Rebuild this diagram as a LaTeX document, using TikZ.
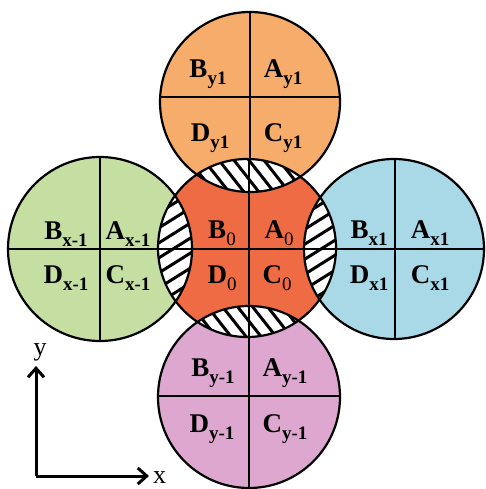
\documentclass[tikz,border=0pt]{standalone}
\usepackage{fontspec}
\setmainfont{Liberation Serif}
\usetikzlibrary{arrows.meta}
\definecolor{cTop}{HTML}{F6AC6A}
\definecolor{cMid}{HTML}{EF6B43}
\definecolor{cLeft}{HTML}{C5DFA3}
\definecolor{cRight}{HTML}{A9D8E7}
\definecolor{cBot}{HTML}{DDA7CF}
\newcommand{\lbl}[2]{{\fontsize{27}{27}\selectfont\bfseries #1\raisebox{-7pt}{\fontsize{19}{19}\selectfont #2}}}
\newcommand{\lblz}[2]{{\fontsize{27}{27}\selectfont\bfseries #1\raisebox{-7pt}{\fontsize{19}{19}\selectfont\mdseries #2}}}
\begin{document}
\begin{tikzpicture}[x=1pt,y=-1pt,
  lab/.style={inner sep=0pt, anchor=base},
  ring/.style={draw=black, line width=2.2pt},
  div/.style={draw=black, line width=1.3pt},
  hatchline/.style={draw=black, line width=3pt},
  axis/.style={draw=black, line width=3pt, -{Straight Barb[length=9pt,width=16pt,line width=3pt]}}]
\useasboundingbox (0,0) rectangle (485,489);
% centres
\coordinate (cC) at (247,248);
\coordinate (cT) at (250,102);
\coordinate (cB) at (249,397);
\coordinate (cL) at (100,249);
\coordinate (cR) at (394,249);
% fills
\fill[cTop] (cT) circle[radius=90pt];
\fill[cBot] (cB) circle[radius=91pt];
\fill[cLeft] (cL) circle[radius=92pt];
\fill[cRight] (cR) circle[radius=90pt];
\fill[cMid] (cC) circle[radius=89pt];
% outer division lines
\begin{scope}\clip (cT) circle[radius=90pt];
  \draw[div] (250,0) -- (250,200); \draw[div] (150,97) -- (350,97);
\end{scope}
\begin{scope}\clip (cB) circle[radius=91pt];
  \draw[div] (249,300) -- (249,489); \draw[div] (150,396) -- (350,396);
\end{scope}
\begin{scope}\clip (cL) circle[radius=92pt];
  \draw[div] (100,150) -- (100,350); \draw[div] (0,249) -- (200,249);
\end{scope}
\begin{scope}\clip (cR) circle[radius=90pt];
  \draw[div] (395,150) -- (395,350); \draw[div] (300,249) -- (485,249);
\end{scope}
% lenses with hatching
\begin{scope}\clip (cC) circle[radius=89pt]; \clip (cT) circle[radius=90pt];
  \fill[white] (150,140) rectangle (350,210);
  \foreach \i in {-12,...,12} \draw[hatchline] (248+\i*15-37,178-47) -- ++(74,94);
\end{scope}
\begin{scope}\clip (cC) circle[radius=89pt]; \clip (cB) circle[radius=91pt];
  \fill[white] (150,290) rectangle (350,350);
  \foreach \i in {-12,...,12} \draw[hatchline] (248+\i*15-37,320-47) -- ++(74,94);
\end{scope}
\begin{scope}\clip (cC) circle[radius=89pt]; \clip (cL) circle[radius=92pt];
  \fill[white] (140,150) rectangle (200,350);
  \foreach \i in {-12,...,12} \draw[hatchline] (173-51,249+\i*15+32) -- ++(102,-64);
\end{scope}
\begin{scope}\clip (cC) circle[radius=89pt]; \clip (cR) circle[radius=90pt];
  \fill[white] (290,150) rectangle (350,350);
  \foreach \i in {-12,...,12} \draw[hatchline] (321-51,249+\i*15+32) -- ++(102,-64);
\end{scope}
% central division lines
\begin{scope}\clip (cC) circle[radius=89pt];
  \draw[div] (249,150) -- (249,350); \draw[div] (150,249) -- (350,249);
\end{scope}
% outlines
\draw[ring] (cT) circle[radius=90pt];
\draw[ring] (cB) circle[radius=91pt];
\draw[ring] (cL) circle[radius=92pt];
\draw[ring] (cR) circle[radius=90pt];
\draw[ring] (cC) circle[radius=89pt];
% labels top
\node[lab] (by1) at (208,78) {\lbl{B}{y1}};
\node[lab] (ay1) at (283,78) {\lbl{A}{y1}};
\node[lab] (dy1) at (210,142) {\lbl{D}{y1}};
\node[lab] (cy1) at (283,142) {\lbl{C}{y1}};
% centre
\node[lab] (b0) at (222,238) {\lblz{B}{0}};
\node[lab] (a0) at (279,238) {\lblz{A}{0}};
\node[lab] (d0) at (222,283) {\lblz{D}{0}};
\node[lab] (c0) at (277,283) {\lblz{C}{0}};
% left
\node[lab] (bxm) at (66,239) {\lbl{B}{x-1}};
\node[lab] (axm) at (128,239) {\lbl{A}{x-1}};
\node[lab] (dxm) at (66,283) {\lbl{D}{x-1}};
\node[lab] (cxm) at (128,283) {\lbl{C}{x-1}};
% right
\node[lab] (bx1) at (369,238) {\lbl{B}{x1}};
\node[lab] (ax1) at (430,238) {\lbl{A}{x1}};
\node[lab] (dx1) at (369,283) {\lbl{D}{x1}};
\node[lab] (cx1) at (430,283) {\lbl{C}{x1}};
% bottom
\node[lab] (bym) at (213,376) {\lbl{B}{y-1}};
\node[lab] (aym) at (285,376) {\lbl{A}{y-1}};
\node[lab] (dym) at (212,432) {\lbl{D}{y-1}};
\node[lab] (cym) at (285,432) {\lbl{C}{y-1}};
% axes
\coordinate (o) at (36,476);
\coordinate (ytip) at (36,366);
\coordinate (xtip) at (149,476);
\draw[axis] (o) -- (ytip);
\draw[axis] (o) -- (xtip);
\node[inner sep=0pt, anchor=base] (ylab) at (40,355) {\fontsize{26}{26}\selectfont y};
\node[inner sep=0pt, anchor=base west] (xlab) at (153,483) {\fontsize{26}{26}\selectfont x};
\end{tikzpicture}
\end{document}
